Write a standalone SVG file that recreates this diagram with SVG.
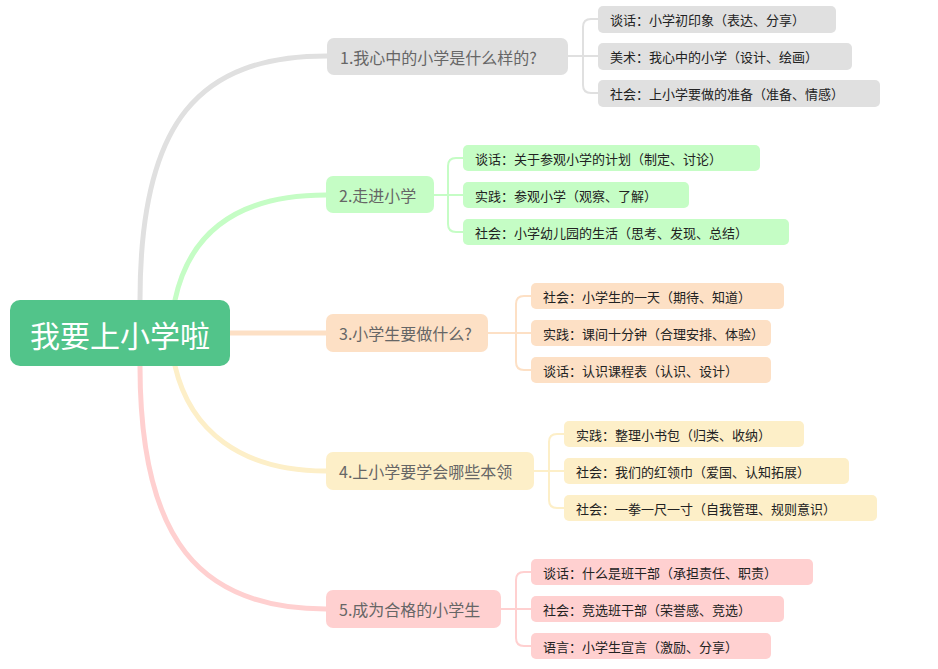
<svg xmlns="http://www.w3.org/2000/svg" width="938" height="669" viewBox="0 0 938 669">
<style>
text{font-family:"Noto Sans CJK SC","Noto Sans",sans-serif}
.b{font-size:16px;fill:#666;dominant-baseline:central}
.l{font-size:13px;fill:#222;dominant-baseline:central}
.c{fill:none;stroke-linecap:round}
.m{stroke-width:5}
.s{stroke-width:2}
</style>
<rect width="938" height="669" fill="#fff"/>
<g id="connectors">
<path class="c m" stroke="#e0e0e0" d="M140 300 C140 120 200 56 327 56"/>
<path class="c m" stroke="#c5fdc5" d="M175 300 C190 230 240 195 326 195"/>
<path class="c m" stroke="#fde0c5" d="M230 333 L326 333"/>
<path class="c m" stroke="#fdefc8" d="M175 366 C190 430 240 471 326 471"/>
<path class="c m" stroke="#ffd0d0" d="M140 366 C140 540 200 609 326 609"/>
<g stroke="#e0e0e0" class="c s"><path d="M568 56 H598 M598 19 H591 Q583 19 583 27 V85 Q583 93 591 93 H598"/></g>
<g stroke="#c5fdc5" class="c s"><path d="M434 195 H463 M463 158 H456 Q448 158 448 166 V224 Q448 232 456 232 H463"/></g>
<g stroke="#fde0c5" class="c s"><path d="M488 333 H531 M531 296 H524 Q516 296 516 304 V362 Q516 370 524 370 H531"/></g>
<g stroke="#fdefc8" class="c s"><path d="M534 471 H564 M564 434 H557 Q549 434 549 442 V500 Q549 508 557 508 H564"/></g>
<g stroke="#ffd0d0" class="c s"><path d="M501 609 H531 M531 572 H524 Q516 572 516 580 V638 Q516 646 524 646 H531"/></g>
</g>
<g id="root"><rect x="10" y="300" width="220" height="66" rx="10" fill="#52c48a"/><text x="120" y="334" font-size="30" fill="#fff" text-anchor="middle" dominant-baseline="central">我要上小学啦</text></g>
<g id="n1"><rect x="327" y="38" width="241" height="37" rx="7" fill="#e0e0e0"/><text class="b" x="340" y="57">1.我心中的小学是什么样的?</text></g>
<g id="n2"><rect x="326" y="176" width="108" height="37" rx="7" fill="#c5fdc5"/><text class="b" x="339" y="195">2.走进小学</text></g>
<g id="n3"><rect x="326" y="314" width="162" height="38" rx="7" fill="#fde0c5"/><text class="b" x="339" y="333">3.小学生要做什么?</text></g>
<g id="n4"><rect x="326" y="452" width="208" height="38" rx="7" fill="#fdefc8"/><text class="b" x="339" y="471">4.上小学要学会哪些本领</text></g>
<g id="n5"><rect x="326" y="590" width="175" height="38" rx="7" fill="#ffd0d0"/><text class="b" x="339" y="609">5.成为合格的小学生</text></g>
<g id="l11"><rect x="598" y="6" width="238" height="27" rx="5" fill="#e0e0e0"/><text class="l" x="610" y="19.5">谈话：小学初印象（表达、分享）</text></g>
<g id="l12"><rect x="598" y="43" width="254" height="27" rx="5" fill="#e0e0e0"/><text class="l" x="610" y="56.5">美术：我心中的小学（设计、绘画）</text></g>
<g id="l13"><rect x="598" y="80" width="282" height="27" rx="5" fill="#e0e0e0"/><text class="l" x="610" y="93.5">社会：上小学要做的准备（准备、情感）</text></g>
<g id="l21"><rect x="463" y="145" width="297" height="26" rx="5" fill="#c5fdc5"/><text class="l" x="475" y="158">谈话：关于参观小学的计划（制定、讨论）</text></g>
<g id="l22"><rect x="463" y="182" width="226" height="26" rx="5" fill="#c5fdc5"/><text class="l" x="475" y="195">实践：参观小学（观察、了解）</text></g>
<g id="l23"><rect x="463" y="219" width="326" height="26" rx="5" fill="#c5fdc5"/><text class="l" x="475" y="232">社会：小学幼儿园的生活（思考、发现、总结）</text></g>
<g id="l31"><rect x="531" y="283" width="253" height="26" rx="5" fill="#fde0c5"/><text class="l" x="543" y="296">社会：小学生的一天（期待、知道）</text></g>
<g id="l32"><rect x="531" y="320" width="240" height="26" rx="5" fill="#fde0c5"/><text class="l" x="543" y="333">实践：课间十分钟（合理安排、体验）</text></g>
<g id="l33"><rect x="531" y="357" width="240" height="26" rx="5" fill="#fde0c5"/><text class="l" x="543" y="370">谈话：认识课程表（认识、设计）</text></g>
<g id="l41"><rect x="564" y="421" width="240" height="26" rx="5" fill="#fdefc8"/><text class="l" x="576" y="434">实践：整理小书包（归类、收纳）</text></g>
<g id="l42"><rect x="564" y="458" width="285" height="26" rx="5" fill="#fdefc8"/><text class="l" x="576" y="471">社会：我们的红领巾（爱国、认知拓展）</text></g>
<g id="l43"><rect x="564" y="495" width="313" height="26" rx="5" fill="#fdefc8"/><text class="l" x="576" y="508">社会：一拳一尺一寸（自我管理、规则意识）</text></g>
<g id="l51"><rect x="531" y="559" width="282" height="26" rx="5" fill="#ffd0d0"/><text class="l" x="543" y="572">谈话：什么是班干部（承担责任、职责）</text></g>
<g id="l52"><rect x="531" y="596" width="253" height="26" rx="5" fill="#ffd0d0"/><text class="l" x="543" y="609">社会：竞选班干部（荣誉感、竞选）</text></g>
<g id="l53"><rect x="531" y="633" width="240" height="26" rx="5" fill="#ffd0d0"/><text class="l" x="543" y="646">语言：小学生宣言（激励、分享）</text></g>
</svg>
